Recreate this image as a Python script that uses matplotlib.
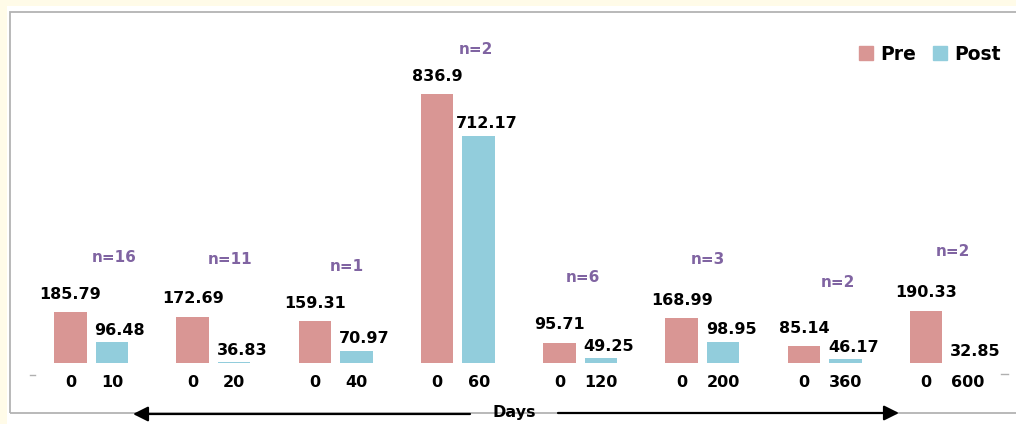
import numpy as np
import matplotlib
matplotlib.use("Agg")
import matplotlib.pyplot as plt
from matplotlib.patches import Rectangle, Patch, FancyArrowPatch
from matplotlib.lines import Line2D

# Follow-up day for each cohort (post measurement), baseline day is 0
days = ["10", "20", "40", "60", "120", "200", "360", "600"]
pre_day = "0"
pre_values = [185.79, 172.69, 159.31, 836.9, 95.71, 168.99, 85.14, 190.33]
post_values = [96.48, 36.83, 70.97, 712.17, 49.25, 98.95, 46.17, 32.85]
n_patients = [16, 11, 1, 2, 6, 3, 2, 2]

PRE = "#d99694"
POST = "#92cddc"
PURPLE = "#8064a2"

W, H = 1016, 424
fig = plt.figure(figsize=(W / 100, H / 100), dpi=100, facecolor="#fffbe8")


def fx(x):
    return x / W


def fy(y):
    return 1 - y / H


# card background and border
fig.patches.append(Rectangle((fx(7), 0), 1, fy(6), transform=fig.transFigure,
                             facecolor="white", edgecolor="none", zorder=-2))
fig.patches.append(Rectangle((fx(10), fy(413)), 1.0, fy(12) - fy(413),
                             transform=fig.transFigure, facecolor="none",
                             edgecolor="#b3b3b3", lw=1.3, zorder=-1))

ax = fig.add_axes([fx(30), fy(363.3), fx(1008) - fx(30), fy(39.3) - fy(363.3)])
ax.set_facecolor("none")
ax.set_xlim(-0.5, 7.5)
ax.set_ylim(34, 1000)
for s in ax.spines.values():
    s.set_visible(False)
ax.set_yticks([])

x = np.arange(len(days))
off, w = 0.17, 0.266
ax.bar(x - off, pre_values, w, color=PRE)
ax.bar(x + off, post_values, w, color=POST)

ax.set_xticks(np.concatenate([x - off, x + off]),
              [pre_day] * len(days) + days)
ax.tick_params(axis="x", length=0, pad=8.5)
for lbl in ax.get_xticklabels():
    lbl.set_fontweight("bold")
    lbl.set_fontsize(11.5)

lbl_kw = dict(textcoords="offset pixels", ha="center", va="center",
              fontsize=11.5, fontweight="bold", annotation_clip=False)
for xi, v in zip(x, pre_values):
    ax.annotate(f"{v:g}", (xi - off, v), xytext=(0, 18), **lbl_kw)
for xi, v in zip(x, post_values):
    ax.annotate(f"{v:g}", (xi + off, v), xytext=(8, 12), **lbl_kw)

# cohort size labels, nudged above each pair of bars
n_label_offsets = [(23, 55), (17, 57), (11, 55), (18, 45),
                   (3, 65), (6, 59), (13, 64), (6, 59)]
for xi, n, p, q, (dx, dy) in zip(x, n_patients, pre_values, post_values,
                                 n_label_offsets):
    ax.annotate(f"n={n}", (xi, max(p, q)), xytext=(dx, dy),
                textcoords="offset pixels", ha="center", va="center",
                fontsize=11, fontweight="bold", color=PURPLE,
                annotation_clip=False)

fig.legend(handles=[Patch(color=PRE, label="Pre"), Patch(color=POST, label="Post")],
           loc="center right", bbox_to_anchor=(fx(1001), fy(54)), ncol=2,
           frameon=False, prop=dict(weight="bold", size=13.5),
           handlelength=0.75, handleheight=0.75, handletextpad=0.4,
           columnspacing=0.9, borderpad=0, borderaxespad=0)

# time axis arrows
fig.text(fx(514), fy(412), "Days", ha="center", va="center",
         fontsize=11.5, fontweight="bold")
arrow_kw = dict(transform=fig.transFigure, arrowstyle="-|>,head_length=0.9,head_width=0.45",
                mutation_scale=10, lw=1.6, color="black", shrinkA=0, shrinkB=0,
                zorder=5)
fig.add_artist(FancyArrowPatch((fx(470), fy(414)), (fx(133), fy(414)), **arrow_kw))
fig.add_artist(FancyArrowPatch((fx(558), fy(413)), (fx(899), fy(413)), **arrow_kw))

# short axis ticks at the ends of the category axis
fig.add_artist(Line2D([fx(30), fx(35)], [fy(375), fy(375)], transform=fig.transFigure,
                      color="#b0b0b0", lw=1))
fig.add_artist(Line2D([fx(1001), fx(1008)], [fy(374), fy(374)], transform=fig.transFigure,
                      color="#b0b0b0", lw=1))

fig.savefig("out.png", dpi=100, facecolor=fig.get_facecolor())
